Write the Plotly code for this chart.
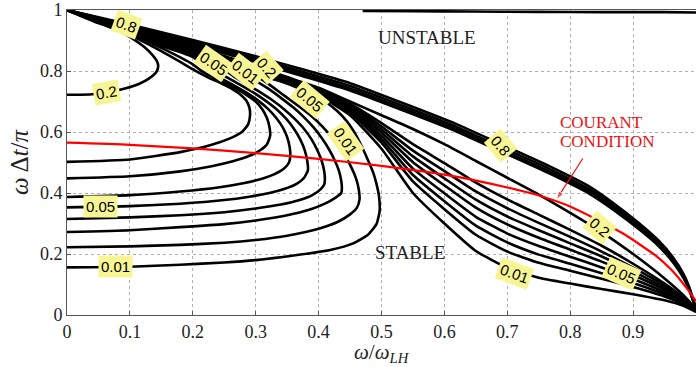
import plotly.graph_objects as go

# ---------------- tick labels ----------------
X_TICKS = [0, 0.1, 0.2, 0.3, 0.4, 0.5, 0.6, 0.7, 0.8, 0.9]
X_TICK_TEXT = ["0", "0.1", "0.2", "0.3", "0.4", "0.5", "0.6", "0.7", "0.8", "0.9"]
Y_TICKS = [0, 0.2, 0.4, 0.6, 0.8, 1.0]
Y_TICK_TEXT = ["0", "0.2", "0.4", "0.6", "0.8", "1"]

# ---------------- closed arcs starting on the left axis ----------------
ARC1_X = [0, 0.1, 0.18, 0.25, 0.3, 0.36, 0.42, 0.455, 0.478, 0.492, 0.497, 0.496, 0.492, 0.487, 0.477,
          0.466, 0.455, 0.445, 0.43, 0.41, 0.385, 0.355, 0.33, 0.30, 0.25, 0.2, 0.15, 0.1, 0.05, 0]
ARC1_Y = [0.156, 0.158, 0.165, 0.172, 0.180, 0.195, 0.214, 0.235, 0.262, 0.298, 0.340, 0.390, 0.430, 0.466, 0.515,
          0.564, 0.605, 0.635, 0.668, 0.700, 0.728, 0.755, 0.772, 0.787, 0.821, 0.861, 0.893, 0.930, 0.965, 1.0]

ARC2_X = [0, 0.1, 0.18, 0.25, 0.3, 0.35, 0.40, 0.43, 0.45, 0.461, 0.465, 0.464, 0.46, 0.453, 0.444,
          0.433, 0.42, 0.405, 0.388, 0.368, 0.345, 0.32, 0.30, 0.25, 0.2, 0.15, 0.1, 0.05, 0]
ARC2_Y = [0.222, 0.225, 0.230, 0.237, 0.246, 0.260, 0.283, 0.305, 0.330, 0.352, 0.378, 0.410, 0.445, 0.480, 0.515,
          0.550, 0.585, 0.620, 0.653, 0.685, 0.720, 0.758, 0.784, 0.818, 0.858, 0.891, 0.929, 0.964, 1.0]

ARC3_X = [0, 0.1, 0.18, 0.25, 0.3, 0.35, 0.385, 0.41, 0.427, 0.436, 0.437, 0.436, 0.432, 0.425, 0.416,
          0.405, 0.392, 0.377, 0.36, 0.34, 0.32, 0.30, 0.275, 0.25, 0.2, 0.15, 0.1, 0.05, 0]
ARC3_Y = [0.272, 0.278, 0.288, 0.298, 0.310, 0.327, 0.345, 0.365, 0.385, 0.400, 0.415, 0.440, 0.475, 0.510, 0.545,
          0.580, 0.615, 0.648, 0.680, 0.712, 0.742, 0.768, 0.795, 0.815, 0.855, 0.889, 0.928, 0.964, 1.0]

ARC4_X = [0, 0.1, 0.18, 0.25, 0.3, 0.34, 0.37, 0.39, 0.403, 0.409, 0.41, 0.409, 0.405, 0.398, 0.389,
          0.377, 0.362, 0.345, 0.326, 0.305, 0.285, 0.265, 0.25, 0.2, 0.15, 0.1, 0.05, 0]
ARC4_Y = [0.315, 0.320, 0.327, 0.337, 0.349, 0.362, 0.377, 0.393, 0.412, 0.428, 0.445, 0.470, 0.505, 0.540, 0.575,
          0.610, 0.643, 0.675, 0.705, 0.733, 0.758, 0.782, 0.805, 0.852, 0.887, 0.927, 0.963, 1.0]

ARC5_X = [0, 0.1, 0.18, 0.25, 0.29, 0.32, 0.345, 0.365, 0.377, 0.383, 0.382, 0.378, 0.371, 0.361, 0.349,
          0.334, 0.316, 0.296, 0.275, 0.255, 0.238, 0.2, 0.15, 0.1, 0.05, 0]
ARC5_Y = [0.353, 0.357, 0.365, 0.377, 0.388, 0.399, 0.413, 0.430, 0.450, 0.475, 0.505, 0.540, 0.575, 0.610, 0.642,
          0.673, 0.702, 0.730, 0.755, 0.778, 0.800, 0.849, 0.885, 0.926, 0.963, 1.0]

ARC6_X = [0, 0.1, 0.18, 0.24, 0.28, 0.31, 0.33, 0.345, 0.353, 0.355, 0.354, 0.35, 0.343, 0.333, 0.32,
          0.304, 0.286, 0.266, 0.246, 0.228, 0.2, 0.15, 0.1, 0.05, 0]
ARC6_Y = [0.387, 0.393, 0.405, 0.418, 0.432, 0.447, 0.462, 0.480, 0.500, 0.522, 0.550, 0.583, 0.615, 0.645, 0.675,
          0.703, 0.728, 0.752, 0.775, 0.798, 0.846, 0.883, 0.925, 0.962, 1.0]

ARC7_X = [0, 0.1, 0.18, 0.23, 0.265, 0.29, 0.307, 0.318, 0.323, 0.322, 0.318, 0.311, 0.3, 0.285, 0.268,
          0.248, 0.228, 0.212, 0.2, 0.15, 0.1, 0.05, 0]
ARC7_Y = [0.448, 0.455, 0.471, 0.488, 0.505, 0.522, 0.540, 0.560, 0.588, 0.615, 0.645, 0.673, 0.700, 0.722, 0.743,
          0.763, 0.783, 0.803, 0.822, 0.876, 0.923, 0.962, 1.0]

ARC8_X = [0, 0.1, 0.18, 0.23, 0.26, 0.278, 0.288, 0.291, 0.29, 0.285, 0.275, 0.261, 0.245, 0.228, 0.212,
          0.2, 0.15, 0.1, 0.05, 0]
ARC8_Y = [0.502, 0.510, 0.534, 0.558, 0.580, 0.600, 0.625, 0.655, 0.680, 0.703, 0.724, 0.743, 0.760, 0.775, 0.792,
          0.806, 0.865, 0.918, 0.958, 1.0]

ARC9_X = [0, 0.04, 0.07, 0.095, 0.115, 0.13, 0.142, 0.145, 0.143, 0.136, 0.122, 0.1, 0.075, 0.05, 0.025, 0]
ARC9_Y = [0.722, 0.724, 0.732, 0.744, 0.758, 0.775, 0.797, 0.815, 0.832, 0.852, 0.880, 0.912, 0.940, 0.957, 0.978, 1.0]

# ---------------- fan of curves running from (0,1) down to (1,0) ----------------
FAN_X = [0, 0.05, 0.1, 0.15, 0.2, 0.25, 0.3, 0.35, 0.40, 0.45, 0.50, 0.55, 0.60, 0.65, 0.70, 0.75,
         0.80, 0.85, 0.90, 0.95, 0.98, 1.0]
FAN1_Y = [1.0, 0.966, 0.932, 0.897, 0.864, 0.826, 0.790, 0.762, 0.720, 0.655, 0.545, 0.400, 0.300, 0.210, 0.155,
          0.122, 0.103, 0.085, 0.068, 0.048, 0.030, 0.010]
FAN2_Y = [1.0, 0.966, 0.933, 0.899, 0.866, 0.829, 0.793, 0.764, 0.723, 0.663, 0.565, 0.438, 0.347, 0.263, 0.208,
          0.171, 0.145, 0.119, 0.092, 0.061, 0.036, 0.011]
FAN3_Y = [1.0, 0.967, 0.934, 0.901, 0.868, 0.832, 0.796, 0.766, 0.726, 0.668, 0.576, 0.459, 0.373, 0.293, 0.238,
          0.198, 0.168, 0.137, 0.105, 0.068, 0.040, 0.012]
FAN4_Y = [1.0, 0.967, 0.935, 0.903, 0.870, 0.835, 0.799, 0.768, 0.729, 0.673, 0.587, 0.480, 0.399, 0.322, 0.267,
          0.226, 0.191, 0.156, 0.118, 0.075, 0.043, 0.013]
FAN5_Y = [1.0, 0.968, 0.936, 0.905, 0.872, 0.838, 0.802, 0.770, 0.732, 0.678, 0.598, 0.501, 0.425, 0.352, 0.297,
          0.253, 0.214, 0.175, 0.131, 0.083, 0.047, 0.014]
FAN6_Y = [1.0, 0.968, 0.937, 0.907, 0.874, 0.841, 0.805, 0.772, 0.735, 0.683, 0.608, 0.520, 0.448, 0.378, 0.323,
          0.278, 0.235, 0.192, 0.143, 0.089, 0.050, 0.015]
FAN7_Y = [1.0, 0.969, 0.938, 0.908, 0.876, 0.844, 0.808, 0.774, 0.738, 0.688, 0.618, 0.539, 0.472, 0.405, 0.350,
          0.302, 0.256, 0.208, 0.155, 0.096, 0.053, 0.016]
FAN8_Y = [1.0, 0.969, 0.939, 0.909, 0.878, 0.846, 0.811, 0.776, 0.741, 0.693, 0.629, 0.560, 0.498, 0.434, 0.379,
          0.329, 0.279, 0.227, 0.168, 0.103, 0.057, 0.018]
FAN9_Y = [1.0, 0.971, 0.942, 0.912, 0.882, 0.849, 0.815, 0.780, 0.745, 0.700, 0.655, 0.610, 0.560, 0.505, 0.450,
          0.395, 0.335, 0.272, 0.200, 0.120, 0.065, 0.020]

# ---------------- upper band (stability edge) ----------------
BAND_X = [0, 0.1, 0.2, 0.3, 0.37, 0.45, 0.54, 0.62, 0.69, 0.77, 0.83, 0.87, 0.91, 0.94, 0.963, 0.98, 0.989, 1.0]
BAND1_Y = [1.0, 0.952, 0.902, 0.848, 0.808, 0.760, 0.690, 0.625, 0.560, 0.485, 0.422, 0.365, 0.300, 0.245, 0.190,
           0.135, 0.093, 0.020]
BAND2_Y = [1.0, 0.949, 0.897, 0.841, 0.800, 0.751, 0.681, 0.616, 0.551, 0.476, 0.413, 0.357, 0.292, 0.238, 0.184,
           0.130, 0.089, 0.020]
BAND3_Y = [1.0, 0.946, 0.892, 0.835, 0.793, 0.743, 0.673, 0.608, 0.543, 0.468, 0.405, 0.350, 0.286, 0.232, 0.179,
           0.126, 0.086, 0.020]
BAND4_Y = [1.0, 0.943, 0.887, 0.829, 0.786, 0.736, 0.666, 0.601, 0.536, 0.461, 0.398, 0.343, 0.280, 0.227, 0.174,
           0.122, 0.083, 0.020]

# contour hugging the top edge
TOP_X = [0.47, 0.55, 0.64, 0.75, 0.85, 0.95, 1.0]
TOP_Y = [0.997, 0.996, 0.995, 0.994, 0.993, 0.993, 0.992]

# ---------------- Courant condition ----------------
COURANT_X = [0, 0.1, 0.2, 0.3, 0.4, 0.5, 0.6, 0.656, 0.7, 0.75, 0.8, 0.85, 0.884, 0.91, 0.937, 0.96, 0.975, 0.99, 1.0]
COURANT_Y = [0.565, 0.558, 0.546, 0.531, 0.512, 0.489, 0.460, 0.438, 0.418, 0.392, 0.356, 0.305, 0.267, 0.232,
             0.193, 0.150, 0.115, 0.075, 0.045]

# pointer from the Courant caption to its curve (tail, tip)
POINTER_X = [0.820, 0.778]
POINTER_Y = [0.513, 0.378]

# ---------------- contour level labels: text, x, y, angle ----------------
LABEL_TEXT = ["0.8", "0.2", "0.05", "0.01", "0.2", "0.05", "0.01", "0.8", "0.05", "0.01", "0.01", "0.05", "0.2"]
LABEL_X = [0.094, 0.063, 0.233, 0.283, 0.317, 0.386, 0.442, 0.689, 0.054, 0.077, 0.711, 0.881, 0.847]
LABEL_Y = [0.952, 0.729, 0.824, 0.798, 0.810, 0.706, 0.571, 0.555, 0.357, 0.158, 0.137, 0.137, 0.286]
LABEL_ANGLE = [20, -10, 35, 38, 48, 40, 55, 50, 0, 0, 20, 24, 40]

black_paths = [
    (ARC1_X, ARC1_Y), (ARC2_X, ARC2_Y), (ARC3_X, ARC3_Y), (ARC4_X, ARC4_Y), (ARC5_X, ARC5_Y),
    (ARC6_X, ARC6_Y), (ARC7_X, ARC7_Y), (ARC8_X, ARC8_Y), (ARC9_X, ARC9_Y),
    (FAN_X, FAN1_Y), (FAN_X, FAN2_Y), (FAN_X, FAN3_Y), (FAN_X, FAN4_Y), (FAN_X, FAN5_Y),
    (FAN_X, FAN6_Y), (FAN_X, FAN7_Y), (FAN_X, FAN8_Y), (FAN_X, FAN9_Y),
    (BAND_X, BAND1_Y), (BAND_X, BAND2_Y), (BAND_X, BAND3_Y), (BAND_X, BAND4_Y),
    (TOP_X, TOP_Y),
]

fig = go.Figure()
for px, py in black_paths:
    fig.add_trace(go.Scatter(
        x=px, y=py, mode="lines",
        line=dict(color="black", width=2.6, shape="spline", smoothing=0.5),
        hoverinfo="skip", showlegend=False,
    ))

fig.add_trace(go.Scatter(
    x=COURANT_X, y=COURANT_Y, mode="lines",
    line=dict(color="#ff0000", width=2.2, shape="spline", smoothing=0.6),
    hoverinfo="skip", showlegend=False,
))

fig.add_trace(go.Scatter(
    x=POINTER_X, y=POINTER_Y, mode="lines+markers",
    line=dict(color="#ee1111", width=1.2),
    marker=dict(symbol="arrow", size=[0, 9], angleref="previous", color="#ee1111"),
    hoverinfo="skip", showlegend=False,
))

annotations = []
for t, lx, ly, ang in zip(LABEL_TEXT, LABEL_X, LABEL_Y, LABEL_ANGLE):
    annotations.append(dict(
        x=lx, y=ly, xref="x", yref="y", text=t, showarrow=False, textangle=ang,
        bgcolor="#f7f594", borderpad=2,
        font=dict(family="Liberation Sans, Arial, sans-serif", size=15, color="black"),
    ))

serif = "Liberation Serif, Times New Roman, serif"
annotations += [
    dict(x=0.572, y=0.911, xref="x", yref="y", text="UNSTABLE", showarrow=False,
         font=dict(family=serif, size=19, color="#222222")),
    dict(x=0.546, y=0.206, xref="x", yref="y", text="STABLE", showarrow=False,
         font=dict(family=serif, size=19, color="#222222")),
    dict(x=0.780, y=0.632, xref="x", yref="y", text="COURANT", showarrow=False, xanchor="left",
         font=dict(family=serif, size=17, color="#ee1111")),
    dict(x=0.780, y=0.570, xref="x", yref="y", text="CONDITION", showarrow=False, xanchor="left",
         font=dict(family=serif, size=17, color="#ee1111")),
    # x-axis title placed as paper-anchored text, below the tick labels
    dict(x=0.5, y=0, xref="paper", yref="paper", yshift=-38, yanchor="middle", showarrow=False,
         borderpad=0, text="<i>ω</i>/<i>ω</i><sub><i>LH</i></sub>",
         font=dict(family=serif, size=21, color="#222222")),
]

axis_common = dict(
    range=[0, 1], showgrid=True, gridcolor="#b0b0b0", gridwidth=1, griddash="dot",
    zeroline=False, showline=True, linecolor="#555555", linewidth=1, mirror=True,
    ticks="inside", ticklen=4, tickcolor="#555555",
    tickfont=dict(family=serif, size=18, color="#222222"),
)

fig.update_layout(
    width=696, height=367,
    margin=dict(l=67, r=0, t=10, b=52),
    paper_bgcolor="white", plot_bgcolor="white",
    xaxis=dict(**axis_common, tickvals=X_TICKS, ticktext=X_TICK_TEXT),
    yaxis=dict(**axis_common, tickvals=Y_TICKS, ticktext=Y_TICK_TEXT,
               title=dict(text="<i>ω</i> Δ<i>t</i>/<i>π</i>",
                          font=dict(family=serif, size=25, color="#222222"), standoff=4)),
    annotations=annotations,
)

fig.write_html("out.html")
